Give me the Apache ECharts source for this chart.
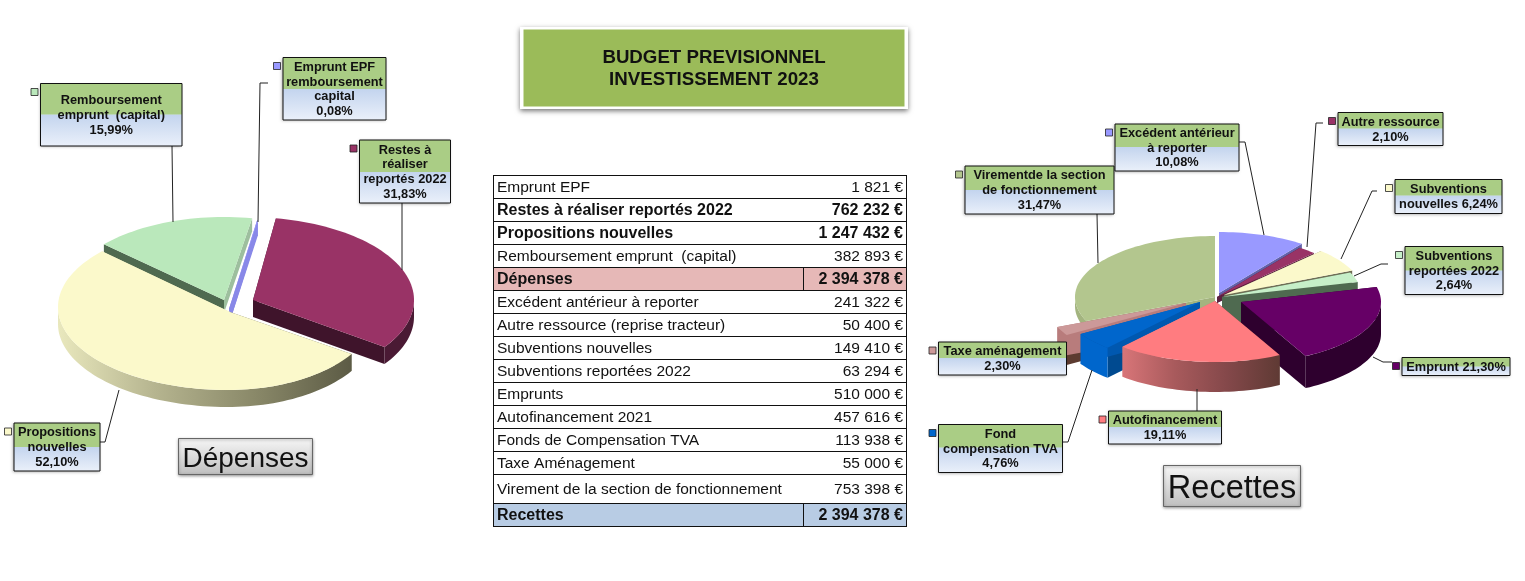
<!DOCTYPE html>
<html><head><meta charset="utf-8">
<style>html,body{margin:0;padding:0;background:#fff;overflow:hidden}#c{width:1525px;height:581px}</style>
<script src="https://cdn.jsdelivr.net/npm/echarts@6/dist/echarts.min.js"></script>
</head><body><div id="c"></div>
<script>
// ---------- data ----------
const depensesNames = ['Emprunt EPF', 'Restes à réaliser reportés 2022', 'Propositions nouvelles', 'Remboursement emprunt (capital)'];
const depensesValues = [1821, 762232, 1247432, 382893];
const recettesNames = ['Excédent antérieur à reporter', 'Autre ressource', 'Subventions nouvelles', 'Subventions reportées 2022', 'Emprunt', 'Autofinancement', 'Fond compensation TVA', 'Taxe aménagement', 'Virement de la section de fonctionnement'];
const recettesValues = [241322, 50400, 149410, 63294, 510000, 457616, 113938, 55000, 753398];
const depensesLabelText = [
  ['Emprunt EPF', 'remboursement', 'capital', '{p}'],
  ['Restes à', 'réaliser', 'reportés 2022', '{p}'],
  ['Propositions', 'nouvelles', '{p}'],
  ['Remboursement', 'emprunt  (capital)', '{p}']
];
const recettesLabelText = [
  ['Excédent antérieur', 'à reporter', '{p}'],
  ['Autre ressource', '{p}'],
  ['Subventions', 'nouvelles {p}'],
  ['Subventions', 'reportées 2022', '{p}'],
  ['Emprunt {p}'],
  ['Autofinancement', '{p}'],
  ['Fond', 'compensation TVA', '{p}'],
  ['Taxe aménagement', '{p}'],
  ['Virementde la section', 'de fonctionnement', '{p}']
];
const tableLabels = ['Emprunt EPF', 'Restes à réaliser reportés 2022', 'Propositions nouvelles', 'Remboursement emprunt  (capital)', 'Dépenses', 'Excédent antérieur à reporter', 'Autre ressource (reprise tracteur)', 'Subventions nouvelles', 'Subventions reportées 2022', 'Emprunts', 'Autofinancement 2021', 'Fonds de Compensation TVA', 'Taxe Aménagement', 'Virement de la section de fonctionnement', 'Recettes'];
const tableValues = [1821, 762232, 1247432, 382893, 2394378, 241322, 50400, 149410, 63294, 510000, 457616, 113938, 55000, 753398, 2394378];
const titleLines = ['BUDGET PREVISIONNEL', 'INVESTISSEMENT 2023'];

// ---------- presentation ----------
const FONT = '"Liberation Sans", Arial, sans-serif';
const grad = (stops) => ({type:'linear',x:0,y:0,x2:1,y2:0,colorStops:stops.map((c,i)=>({offset:i/(stops.length-1),color:c}))});
const vgrad = (a,b) => ({type:'linear',x:0,y:0,x2:0,y2:1,colorStops:[{offset:0,color:a},{offset:1,color:b}]});
const pieDep = {
  cx:226, cy:308, rx:167, ry:83, start:9.7, order:[3,0,1,2],
  slices:[
    {top:'#9999FF',outer:'#6f6fc0',sw:'#8080d8',ew:'#8888e8',dx:3,dy:-6,depth:15,ax:0,ay:7},
    {top:'#993366',outer:'#4a1a34',sw:'#4a1a34',ew:'#3f142b',dx:21,dy:-8,depth:17,ax:6,ay:0},
    {top:'#FBF9CB',outer:grad(['#e9e8bd','#b5b48f','#8a8969','#5c5b45']),sw:'#6b6a50',ew:'#e9e8bd',dx:2,dy:-1,depth:17,ax:2,ay:5,rxL:170,rxR:150},
    {top:'#BAE8BB',outer:'#4f6a50',sw:'#4f6a50',ew:'#9dbf9e',dx:-2,dy:-8,depth:13,rxL:162}
  ]
};
const pieRec = {
  cx:1215, cy:300, rx:140, ry:61, start:0, order:[8,0,1,2,3,4,7,6,5],
  slices:[
    {top:'#9999FF',outer:'#6666aa',sw:'#6666aa',ew:'#6262a8',dx:4,dy:-7,depth:6},
    {top:'#993366',outer:'#4a1a34',sw:'#4a1a34',ew:'#5c2140',dx:2,dy:-3,depth:6},
    {top:'#FBF9CB',outer:'#8f8e70',sw:'#8f8e70',ew:'#6f6e55',dx:9,dy:-5,depth:12},
    {top:'#C6EFC8',outer:'#4f6a50',sw:'#4f6a50',ew:'#4f6a50',dx:7,dy:-3,depth:30},
    {top:'#660066',outer:'#2e002e',sw:'#2e002e',ew:'#2e002e',dx:26,dy:2,depth:32},
    {top:'#FF7C80',outer:grad(['#d87578','#a85a5c','#84484a','#5f3a34']),sw:'#5f3a34',ew:'#d87578',dx:0,dy:1,depth:30},
    {top:'#0066CC',outer:'#0066CC',sw:'#004a90',ew:'#0058b0',dx:-15,dy:2,depth:30},
    {top:'#CC9999',outer:'#b87c7c',sw:'#5c3b30',ew:'#b87c7c',dx:-29,dy:3,depth:30},
    {top:'#B3C68E',outer:'#a3b47f',sw:'#a3b47f',ew:'#a3b47f',dx:0,dy:-3,depth:9}
  ]
};
const boxesDep = [
  {x:283,y:57.5,w:103,h:62.5,split:31.5,leader:[[268,83],[260,83],[258,222]]},
  {x:359.5,y:140,w:91,h:63,split:32,leader:[[402,203],[402,270]]},
  {x:14,y:423,w:86,h:48,split:24,leader:[[100,442],[105,442],[119,390]]},
  {x:40.5,y:83.5,w:141.5,h:62.5,split:31,leader:[[172,146],[173,222]]}
];
const boxesRec = [
  {x:1115,y:124,w:124,h:47,split:23,leader:[[1239,142],[1245,142],[1264,235]]},
  {x:1338,y:112.5,w:105,h:33,split:16,leader:[[1323,123],[1316,123],[1307,247]]},
  {x:1395,y:179.5,w:107,h:34,split:16,leader:[[1377,191],[1372,191],[1341,259]]},
  {x:1405,y:246.5,w:98,h:48,split:24,leader:[[1388,264],[1381,264],[1354,276]]},
  {x:1402,y:357.5,w:108,h:18,split:9,leader:[[1373,357],[1383,362],[1392,362]]},
  {x:1108.5,y:411,w:113,h:33,split:16,leader:[[1197,389],[1197,411]]},
  {x:938.5,y:424.5,w:124,h:48,split:23,leader:[[1092,370],[1068,442],[1063,442]]},
  {x:938.5,y:342,w:128,h:33,split:16,leader:[]},
  {x:965,y:166,w:149,h:48,split:24,leader:[[1097,214],[1098,263]]}
];
const captions = [
  {text:'Dépenses',x:178.5,y:438.5,w:134,h:36,size:28,shift:2},
  {text:'Recettes',x:1163.5,y:465.5,w:137,h:41,size:32.5,shift:3}
];
const rowEdges = [175,198,221,244,267,290,313,336,359,382,405,428,451,474,503,526];
const boldRows = {1:1,2:1,4:1,14:1};
const rowFill = {4:'#E6B8B7',14:'#B8CCE4'};

// ---------- helpers ----------
const fmtPct = (v,t) => (v/t*100).toFixed(2).replace('.',',') + '%';
const fmtEur = v => String(v).replace(/\B(?=(\d{3})+(?!\d))/g,' ') + ' €';
const sum = a => a.reduce((s,v)=>s+v,0);

function pieRows(values, cfg){
  const total = sum(values); let a = cfg.start;
  const rows = values.map((v,i)=>{const b=a+v/total*360;const r=[v,a,b,i];a=b;return r;});
  return cfg.order.map(i=>rows[i]);
}
function renderSlice(cfg){
  return function(params, api){
    const a0=api.value(1), a1=api.value(2), s=cfg.slices[api.value(3)];
    const cx=cfg.cx+s.dx, cy=cfg.cy+s.dy, d=s.depth;
    const ax=cx+(s.ax||0), ay=cy+(s.ay||0);
    const pt=(deg,off)=>{const t=deg*Math.PI/180,si=Math.sin(t);
      const r=si<0?(s.rxL||cfg.rx):(s.rxR||cfg.rx);
      return [cx+r*si,cy-cfg.ry*Math.cos(t)+(off||0)];};
    const arc=(x0,x1,off)=>{const n=Math.max(2,Math.ceil((x1-x0)/2)),p=[];for(let i=0;i<=n;i++)p.push(pt(x0+(x1-x0)*i/n,off));return p;};
    const children=[];
    const poly=(points,fill)=>children.push({type:'polygon',shape:{points},style:{fill,stroke:null}});
    // radial walls
    poly([[ax,ay],pt(a0),pt(a0,d),[ax,ay+d]],s.sw);
    poly([[ax,ay],pt(a1),pt(a1,d),[ax,ay+d]],s.ew);
    // outer wall: the part of the rim that faces the viewer
    const lo=Math.max(a0,90), hi=Math.min(a1,270);
    if(hi>lo){ poly(arc(lo,hi,0).concat(arc(lo,hi,d).reverse()),s.outer); }
    // top face
    poly([[ax,ay]].concat(arc(a0,a1,0)),s.top);
    return {type:'group',children};
  };
}
function sliceSeries(values,cfg){
  return {type:'custom',coordinateSystem:'none',silent:true,animation:false,
    dimensions:['value','start','end','slice'],data:pieRows(values,cfg),renderItem:renderSlice(cfg)};
}
function labelGraphics(values,texts,boxes,cfg){
  const total=sum(values),out=[];
  boxes.forEach((b,i)=>{
    if(b.leader.length) out.push({type:'polyline',z:5,shape:{points:b.leader},style:{fill:null,stroke:'#222',lineWidth:1}});
    out.push({type:'rect',z:6,shape:{x:b.x,y:b.y,width:b.w,height:b.h},style:{fill:'#DCE6F5',shadowBlur:3,shadowOffsetX:-1,shadowOffsetY:1,shadowColor:'rgba(0,0,0,0.35)'}});
    out.push({type:'rect',z:6,shape:{x:b.x,y:b.y+b.split,width:b.w,height:b.h-b.split},style:{fill:vgrad('#C3D4EE','#EAF0FA')}});
    out.push({type:'rect',z:6,shape:{x:b.x,y:b.y,width:b.w,height:b.split},style:{fill:'#AACD85'}});
    out.push({type:'rect',z:7,shape:{x:b.x,y:b.y,width:b.w,height:b.h},style:{fill:null,stroke:'#111',lineWidth:1}});
    const lines=texts[i], y0=b.y+(b.h-lines.length*14.7)/2+8;
    lines.forEach((t,j)=>out.push({type:'text',z:8,style:{text:t.replace('{p}',fmtPct(values[i],total)),x:b.x+b.w/2,y:y0+j*14.7,align:'center',verticalAlign:'middle',font:'bold 12.8px '+FONT,fill:'#111'}}));
    const ks=7, kx=b.x-ks-2.5, ky=b.y+5;
    out.push({type:'rect',z:7,shape:{x:kx,y:ky,width:ks,height:ks},style:{fill:cfg.slices[i].top,stroke:'#222',lineWidth:0.8}});
  });
  return out;
}
function tableGraphics(){
  const L=493.5,R=906.5,S=803.5,out=[];
  tableLabels.forEach((t,i)=>{
    const y0=rowEdges[i],y1=rowEdges[i+1],b=boldRows[i];
    if(rowFill[i]) out.push({type:'rect',z:1,shape:{x:L,y:y0,width:R-L,height:y1-y0},style:{fill:rowFill[i]}});
    const f=(b?'bold 16px ':'15.5px ')+FONT, ym=(y0+y1)/2+1.5;
    out.push({type:'text',z:3,style:{text:t,x:497,y:ym,align:'left',verticalAlign:'middle',font:f,fill:'#111'}});
    out.push({type:'text',z:3,style:{text:fmtEur(tableValues[i]),x:903,y:ym,align:'right',verticalAlign:'middle',font:f,fill:'#111'}});
    if(rowFill[i]) out.push({type:'line',z:2,shape:{x1:S,y1:y0,x2:S,y2:y1},style:{stroke:'#111',lineWidth:1}});
  });
  rowEdges.forEach(y=>out.push({type:'line',z:2,shape:{x1:L,y1:y+0.5,x2:R,y2:y+0.5},style:{stroke:'#111',lineWidth:1}}));
  [L,R].forEach(x=>out.push({type:'line',z:2,shape:{x1:x,y1:175,x2:x,y2:527},style:{stroke:'#111',lineWidth:1}}));
  return out;
}
function titleGraphics(){
  const out=[{type:'rect',z:1,shape:{x:520,y:27,width:388,height:82},style:{fill:'#fff',shadowBlur:5,shadowOffsetY:2,shadowColor:'rgba(0,0,0,0.55)'}},
    {type:'rect',z:2,shape:{x:523.5,y:29.5,width:381,height:77},style:{fill:'#9BBB59'}}];
  titleLines.forEach((t,i)=>out.push({type:'text',z:3,style:{text:t,x:714,y:57.5+i*22,align:'center',verticalAlign:'middle',font:'bold 18.7px '+FONT,fill:'#111'}}));
  return out;
}
function captionGraphics(){
  const out=[];
  captions.forEach(c=>{
    out.push({type:'rect',z:1,shape:{x:c.x,y:c.y,width:c.w,height:c.h},style:{fill:vgrad('#F7F7F7','#BEBEBE'),stroke:'#666',lineWidth:1,shadowBlur:3,shadowOffsetY:1,shadowColor:'rgba(0,0,0,0.4)'}});
    out.push({type:'text',z:2,style:{text:c.text,x:c.x+c.w/2,y:c.y+c.h/2+0.5+c.shift,align:'center',verticalAlign:'middle',font:c.size+'px '+FONT,fill:'#111'}});
  });
  return out;
}

const chart = echarts.init(document.getElementById('c'),null,{renderer:'canvas',width:1525,height:581});
chart.setOption({
  animation:false,
  backgroundColor:'#fff',
  series:[sliceSeries(depensesValues,pieDep),sliceSeries(recettesValues,pieRec)],
  graphic:{elements:[].concat(
    titleGraphics(),tableGraphics(),captionGraphics(),
    labelGraphics(depensesValues,depensesLabelText,boxesDep,pieDep),
    labelGraphics(recettesValues,recettesLabelText,boxesRec,pieRec)
  ).map(e=>Object.assign({silent:true},e))}
});
</script></body></html>
